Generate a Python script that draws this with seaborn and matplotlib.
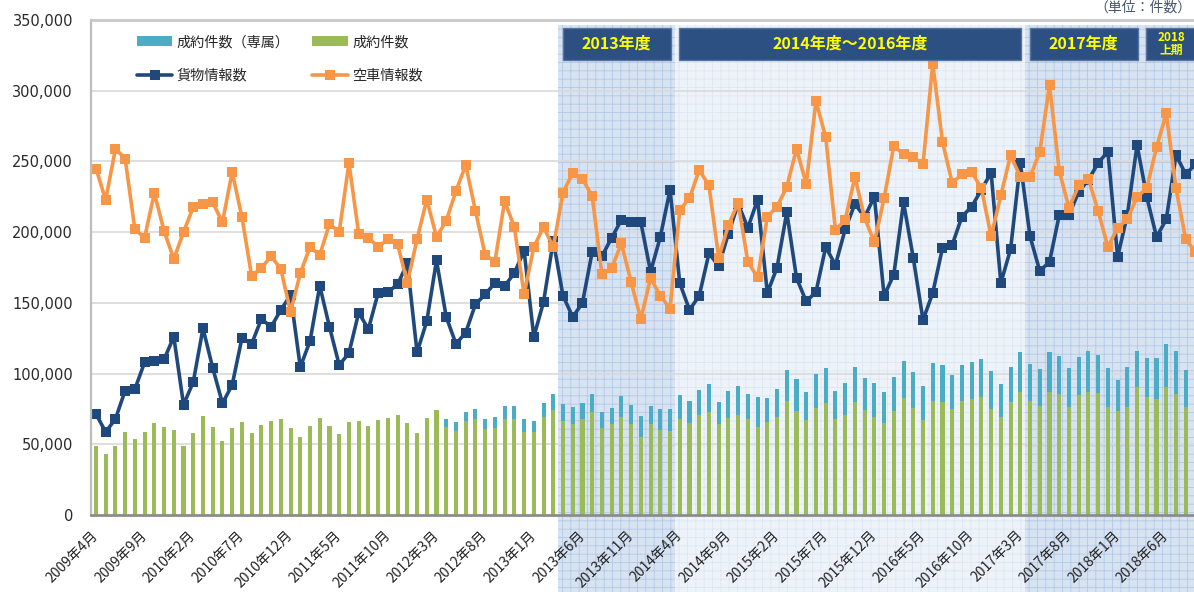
import numpy as np
import pandas as pd
import matplotlib
matplotlib.use("Agg")
import matplotlib.pyplot as plt
import matplotlib.transforms as mtrans
from matplotlib.patches import Rectangle, Patch
from matplotlib.lines import Line2D
import seaborn as sns

# ---------------- data ----------------
months = [f"{2009 + (3 + k) // 12}年{(3 + k) % 12 + 1}月" for k in range(114)]  # 2009年4月 .. 2018年9月

# 貨物情報数 (freight information count)
cargo = [71400, 58700, 67900, 88000, 89000, 108000, 109000, 110000, 126000, 78000,
         94000, 132000, 104000, 79000, 92000, 125000, 121000, 138600, 133000, 145000,
         155500, 104600, 123000, 162000, 133000, 106000, 114500, 143000, 131500, 157000,
         157700, 163000, 178000, 115000, 137000, 180000, 140000, 121000, 129000, 149000,
         156000, 164000, 162000, 171000, 187000, 126000, 150600, 194000, 155000, 140000,
         150000, 186000, 183000, 196000, 208600, 207000, 207000, 172000, 196600, 230000,
         164000, 145000, 155000, 185000, 176000, 199000, 220000, 203000, 223000, 157000,
         175000, 214000, 167600, 151000, 157700, 189500, 176800, 202000, 220000, 210700,
         225000, 155000, 170000, 221000, 181700, 137900, 157000, 188800, 191000, 211000,
         218000, 230000, 242000, 164000, 188000, 249000, 197000, 172500, 179000, 212000,
         212000, 228600, 236900, 249000, 256900, 182600, 212000, 261600, 224800, 196600,
         209000, 254500, 241000, 248000]

# 空車情報数 (empty truck information count)
empty = [245000, 222700, 259000, 252000, 202000, 196000, 227700, 200800, 181000, 200000,
         217800, 220000, 221000, 207000, 242500, 210700, 169000, 174600, 183000, 174000,
         143500, 171000, 189500, 183800, 205800, 200000, 248900, 199000, 196000, 189500,
         195000, 191600, 164000, 195000, 223000, 196600, 208000, 229000, 247500, 215000,
         184000, 179000, 222000, 203600, 156000, 189500, 203600, 189500, 228000, 241800,
         237600, 225500, 170400, 174600, 192000, 164700, 138600, 167600, 155000, 146000,
         215700, 224000, 244000, 233000, 182000, 205000, 220600, 179000, 168000, 211000,
         218000, 232000, 258800, 234000, 292700, 267000, 201500, 208600, 239000, 210000,
         193000, 224000, 261000, 255000, 253000, 248000, 319000, 264000, 234700, 241000,
         242500, 231000, 197000, 226000, 254500, 239000, 239000, 256700, 304000, 243500,
         217000, 233000, 237600, 215000, 189500, 203000, 209000, 225000, 231000, 260000,
         284000, 231000, 195000, 186000]

# 成約件数 (contracts, excluding exclusive part)
contracts = [49000, 43000, 49000, 58900, 54000, 59000, 64800, 62400, 60000, 48800,
             57700, 70000, 62400, 52300, 61300, 65500, 57700, 63600, 66500, 67900,
             61700, 54900, 63100, 68400, 63100, 57000, 66000, 66500, 63100, 67200,
             68400, 70700, 64800, 57700, 68800, 74200, 62000, 59600, 66700, 67600,
             60600, 61300, 67600, 67900, 58900, 58900, 69000, 74200, 66500, 64300,
             67900, 72600, 61700, 64100, 69500, 64300, 55400, 64100, 60100, 59400,
             67900, 64800, 70700, 73000, 64300, 68800, 70700, 67900, 62000, 65500,
             69000, 80600, 73500, 67200, 75400, 79000, 67900, 70700, 80100, 74200,
             69000, 65300, 73500, 82500, 75900, 67200, 80600, 80100, 74700, 80600,
             81800, 83600, 74900, 69000, 79700, 87200, 80800, 77100, 86700, 85300,
             76600, 84900, 87200, 86000, 76100, 73500, 76100, 90300, 83200, 82000,
             90300, 85600, 76100]

# 成約件数（専属） (exclusive contracts, stacked on top)
exclusive = [0] * 36 + [
    5600, 6400, 6300, 7100, 7300, 8200, 9700, 9400, 8700, 7800,
    10000, 11100, 12000, 11800, 11500, 13000, 10900, 11800, 14600, 13500,
    14600, 13000, 14800, 15500, 17000, 16000, 17700, 19600, 15800, 19100,
    20700, 17700, 21600, 17200, 20000, 21900, 22500, 20000, 24600, 25000,
    20000, 22300, 24300, 22400, 24600, 21700, 24300, 26500, 25000, 24000,
    27100, 25900, 24300, 25400, 26600, 26400, 26900, 23400, 25200, 28300,
    26000, 26100, 28800, 27100, 27100, 27000, 28800, 27100, 28100, 22000,
    28800, 25700, 28000, 29200, 30400, 30600, 26400]

# fiscal periods: (label, first month, last month, style)
periods = [("2013年度", "2013年4月", "2014年3月", "dark"),
           ("2014年度～2016年度", "2014年4月", "2017年3月", "light"),
           ("2017年度", "2017年4月", "2018年3月", "dark"),
           ("2018\n上期", "2018年4月", "2018年9月", "dark")]

series_names = ["成約件数（専属）", "成約件数", "貨物情報数", "空車情報数"]

# ---------------- style ----------------
C_BLUE = "#4bacc6"
C_GREEN = "#9bbb59"
C_NAVY = "#1f497d"
C_ORANGE = "#f79646"

sns.set_theme(style="white")
plt.rcParams["font.family"] = ["DejaVu Sans", "Noto Sans CJK JP"]
plt.rcParams["hatch.linewidth"] = 0.6
CJK = ["Noto Sans CJK JP", "DejaVu Sans"]

W, H = 1194, 592
fig = plt.figure(figsize=(W / 100, H / 100), dpi=100)
ax = fig.add_axes([91 / W, 77 / H, (W - 91) / W, 495 / H])
ax.set_facecolor("white")

blend = mtrans.blended_transform_factory(ax.transData, ax.transAxes)

# period bands
for label, m0, m1, style in periods:
    a = months.index(m0) - 0.5
    b = months.index(m1) + 0.5
    if style == "dark":
        face, hcol = "#d8e3f2", "#b2c8e6"
    else:
        face, hcol = "#eef3f9", "#dde7f3"
    ax.add_patch(Rectangle((a, -0.156), b - a, 1.146, transform=blend,
                           facecolor=face, edgecolor="none", zorder=0.2, clip_on=False))
    ax.add_patch(Rectangle((a, -0.156), b - a, 1.146, transform=blend,
                           facecolor="none", edgecolor=hcol, hatch="++", linewidth=0,
                           zorder=0.3, clip_on=False))
    # header box
    bx0, bx1 = a + 0.45, b - 0.45
    ax.add_patch(Rectangle((bx0, 0.919), bx1 - bx0, 0.065, transform=blend,
                           facecolor="#2c5082", edgecolor="#56749f", linewidth=1,
                           zorder=6, clip_on=False))
    small = "\n" in label
    ax.text((bx0 + bx1) / 2, 0.9515, label, transform=blend, ha="center", va="center",
            color="#ffff00", fontsize=8.5 if small else 11.5, fontweight="bold",
            family=CJK, linespacing=1.05, zorder=7, clip_on=False)

# gridlines
for yv in range(50000, 350000, 50000):
    ax.axhline(yv, color="#d9d9d9", lw=1.2, zorder=0.6)

# bars (stacked: exclusive on top of contracts)
nb = len(contracts)
xb = np.arange(nb)
total = np.array(contracts) + np.array(exclusive)
sns.barplot(x=xb, y=total, native_scale=True, color=C_BLUE, width=0.42, errorbar=None,
            saturation=1, linewidth=0, edgecolor="none", zorder=2, ax=ax)
sns.barplot(x=xb, y=np.array(contracts), native_scale=True, color=C_GREEN, width=0.42,
            errorbar=None, saturation=1, linewidth=0, edgecolor="none", zorder=2.1, ax=ax)

# lines
xl = np.arange(len(cargo))
sns.lineplot(x=xl, y=cargo, color=C_NAVY, marker="s", markersize=7, markeredgewidth=0,
             linewidth=2.6, errorbar=None, legend=False, zorder=3, ax=ax)
sns.lineplot(x=xl, y=empty, color=C_ORANGE, marker="s", markersize=7, markeredgewidth=0,
             linewidth=2.6, errorbar=None, legend=False, zorder=4, ax=ax)

# axes
ax.set_xlim(-0.51, 112.85)
ax.set_ylim(0, 350000)
ax.set_yticks(range(0, 350001, 50000))
ax.set_yticklabels([f"{v:,}" for v in range(0, 350001, 50000)], fontsize=10.5,
                   color="#2a2a2a")
tick_idx = list(range(0, nb, 5))
ax.set_xticks(tick_idx)
ax.set_xticklabels([months[i] for i in tick_idx], rotation=45, ha="right", va="center",
                   rotation_mode="anchor", fontsize=10, family=CJK, color="#222222")
ax.tick_params(axis="y", length=0, pad=13)
ax.tick_params(axis="x", length=0, pad=13)
ax.set_xlabel("")
ax.set_ylabel("")
ax.grid(False)

ax.spines["right"].set_visible(False)
ax.spines["top"].set_visible(True)
ax.spines["left"].set_visible(True)
ax.spines["bottom"].set_visible(True)
ax.spines["top"].set_color("#c8c8c8")
ax.spines["top"].set_linewidth(2)
ax.spines["left"].set_color("#bdbdbd")
ax.spines["left"].set_linewidth(1.6)
ax.spines["bottom"].set_color("#8c8c8c")
ax.spines["bottom"].set_linewidth(2)
for s in ax.spines.values():
    s.set_zorder(5)

# legend
handles = [Patch(facecolor=C_BLUE, edgecolor="none"),
           Line2D([], [], color=C_NAVY, lw=2.6, marker="s", markersize=7, markeredgewidth=0),
           Patch(facecolor=C_GREEN, edgecolor="none"),
           Line2D([], [], color=C_ORANGE, lw=2.6, marker="s", markersize=7, markeredgewidth=0)]
labels = [series_names[0], series_names[2], series_names[1], series_names[3]]
leg = ax.legend(handles, labels, ncol=2, loc="upper left",
                bbox_to_anchor=(137 / W, 1 - 35 / H), bbox_transform=fig.transFigure,
                frameon=False, prop={"family": CJK, "size": 10.2},
                handlelength=2.5, handletextpad=0.3, columnspacing=1.6,
                labelspacing=1.4, borderpad=0, borderaxespad=0)
leg.set_zorder(8)

fig.text(1191 / W, 1 - 8 / H, "（単位：件数）", ha="right", va="center", fontsize=10,
         color="#44546a", family=CJK)

fig.savefig("out.png", dpi=100)
